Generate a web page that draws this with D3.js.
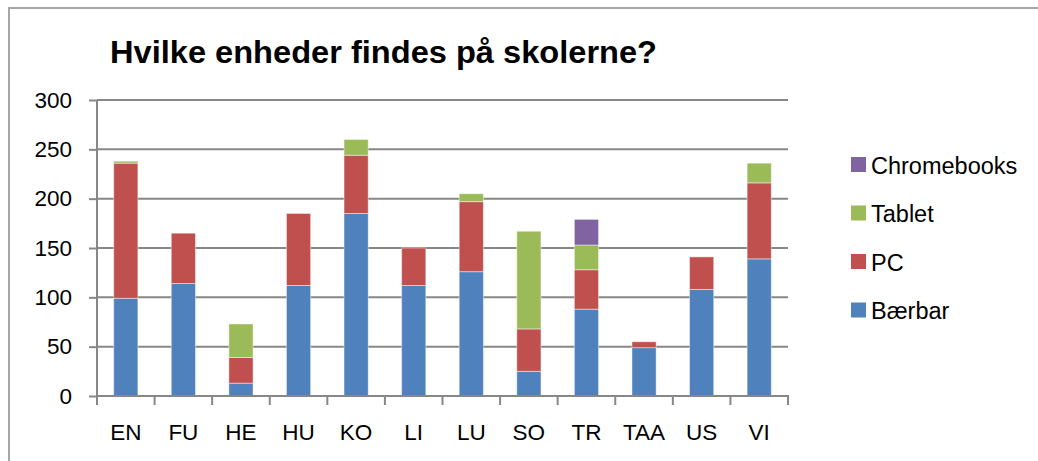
<!DOCTYPE html>
<html><head><meta charset="utf-8">
<script src="https://cdn.jsdelivr.net/npm/d3@7"></script>
<style>body{margin:0;background:#fff}svg{display:block}</style>
</head><body>
<svg id="c" width="1038" height="461"></svg>
<script>
const categories = ["EN","FU","HE","HU","KO","LI","LU","SO","TR","TAA","US","VI"];
const seriesNames = ["Bærbar","PC","Tablet","Chromebooks"];
const baerbar     = [99,114,13,112,185,112,126,25,88,49,108,139];
const pc          = [137,51,26,73,59,38,71,43,40,6,33,77];
const tablet      = [2,0,34,0,16,0,8,99,25,0,0,20];
const chromebooks = [0,0,0,0,0,0,0,0,26,0,0,0];
const yTicks = [0,50,100,150,200,250,300];
const colors = ["#4F81BD","#C0504D","#9BBB59","#8064A2"];
const title = "Hvilke enheder findes på skolerne?";

const rows = categories.map((c,i)=>({cat:c,"Bærbar":baerbar[i],"PC":pc[i],"Tablet":tablet[i],"Chromebooks":chromebooks[i]}));
const stacked = d3.stack().keys(seriesNames)(rows);

const svg = d3.select("#c");
const font = "'Liberation Sans', Arial, sans-serif";
const M = {left:97, right:788, top:100, bottom:396};

// frame
svg.append("path").attr("d","M9,461V8H1038").attr("fill","none").attr("stroke","#a6a6a6").attr("stroke-width",2);

const x = d3.scaleBand().domain(categories).range([M.left,M.right]).paddingInner(0.58).paddingOuter(0.29);
const y = d3.scaleLinear().domain([0,300]).range([M.bottom,M.top]);

// gridlines + y axis
const yAxis = d3.axisLeft(y).tickValues(yTicks).tickSize(8).tickPadding(17);
const gy = svg.append("g").attr("transform",`translate(${M.left},0)`).call(yAxis);
gy.select(".domain").attr("stroke","#878787").attr("stroke-width",2).attr("d",`M0,${M.top}V${M.bottom}`);
gy.selectAll(".tick line").attr("stroke","#878787").attr("stroke-width",2);
gy.selectAll(".tick text").attr("font-family",font).attr("font-size",22.5).attr("fill","#000");
svg.append("g").selectAll("line").data(yTicks.filter(t=>t>0)).join("line")
  .attr("x1",M.left).attr("x2",M.right).attr("y1",d=>y(d)).attr("y2",d=>y(d))
  .attr("stroke","#878787").attr("stroke-width",2);

// bars
svg.append("g").selectAll("g").data(stacked).join("g").attr("fill",(d,i)=>colors[i])
  .selectAll("rect").data(d=>d.filter(s=>s[1]-s[0]>0)).join("rect")
  .attr("x",d=>x(d.data.cat)).attr("width",x.bandwidth())
  .attr("y",d=>y(d[1])).attr("height",d=>y(d[0])-y(d[1]))
  .attr("stroke","#ffffff").attr("stroke-opacity",0.45).attr("stroke-width",1);

// x axis
const gx = svg.append("g").attr("transform",`translate(0,${M.bottom})`);
gx.append("line").attr("x1",M.left-1).attr("x2",M.right+1).attr("stroke","#878787").attr("stroke-width",2);
const bounds = d3.range(categories.length+1).map(i=>M.left+i*x.step());
gx.selectAll("line.tk").data(bounds).join("line").attr("class","tk")
  .attr("x1",d=>d).attr("x2",d=>d).attr("y1",0).attr("y2",9).attr("stroke","#878787").attr("stroke-width",2);
gx.selectAll("text").data(categories).join("text")
  .attr("x",d=>x(d)+x.bandwidth()/2).attr("y",44).attr("text-anchor","middle")
  .attr("font-family",font).attr("font-size",22.5).attr("fill","#000").text(d=>d);

// title
svg.append("text").attr("x",110).attr("y",63).attr("font-family",font).attr("font-weight","bold")
  .attr("font-size",32).attr("textLength",547).attr("lengthAdjust","spacingAndGlyphs").text(title);

// legend
const legendOrder = [3,2,1,0];
const lg = svg.append("g").selectAll("g").data(legendOrder).join("g")
  .attr("transform",(d,i)=>`translate(851,${165+i*48.5})`);
lg.append("rect").attr("x",0).attr("y",-8).attr("width",15).attr("height",15).attr("fill",d=>colors[d]);
lg.append("text").attr("x",20).attr("y",8.5).attr("font-family",font).attr("font-size",23.5).text(d=>seriesNames[d]);
</script>
</body></html>
